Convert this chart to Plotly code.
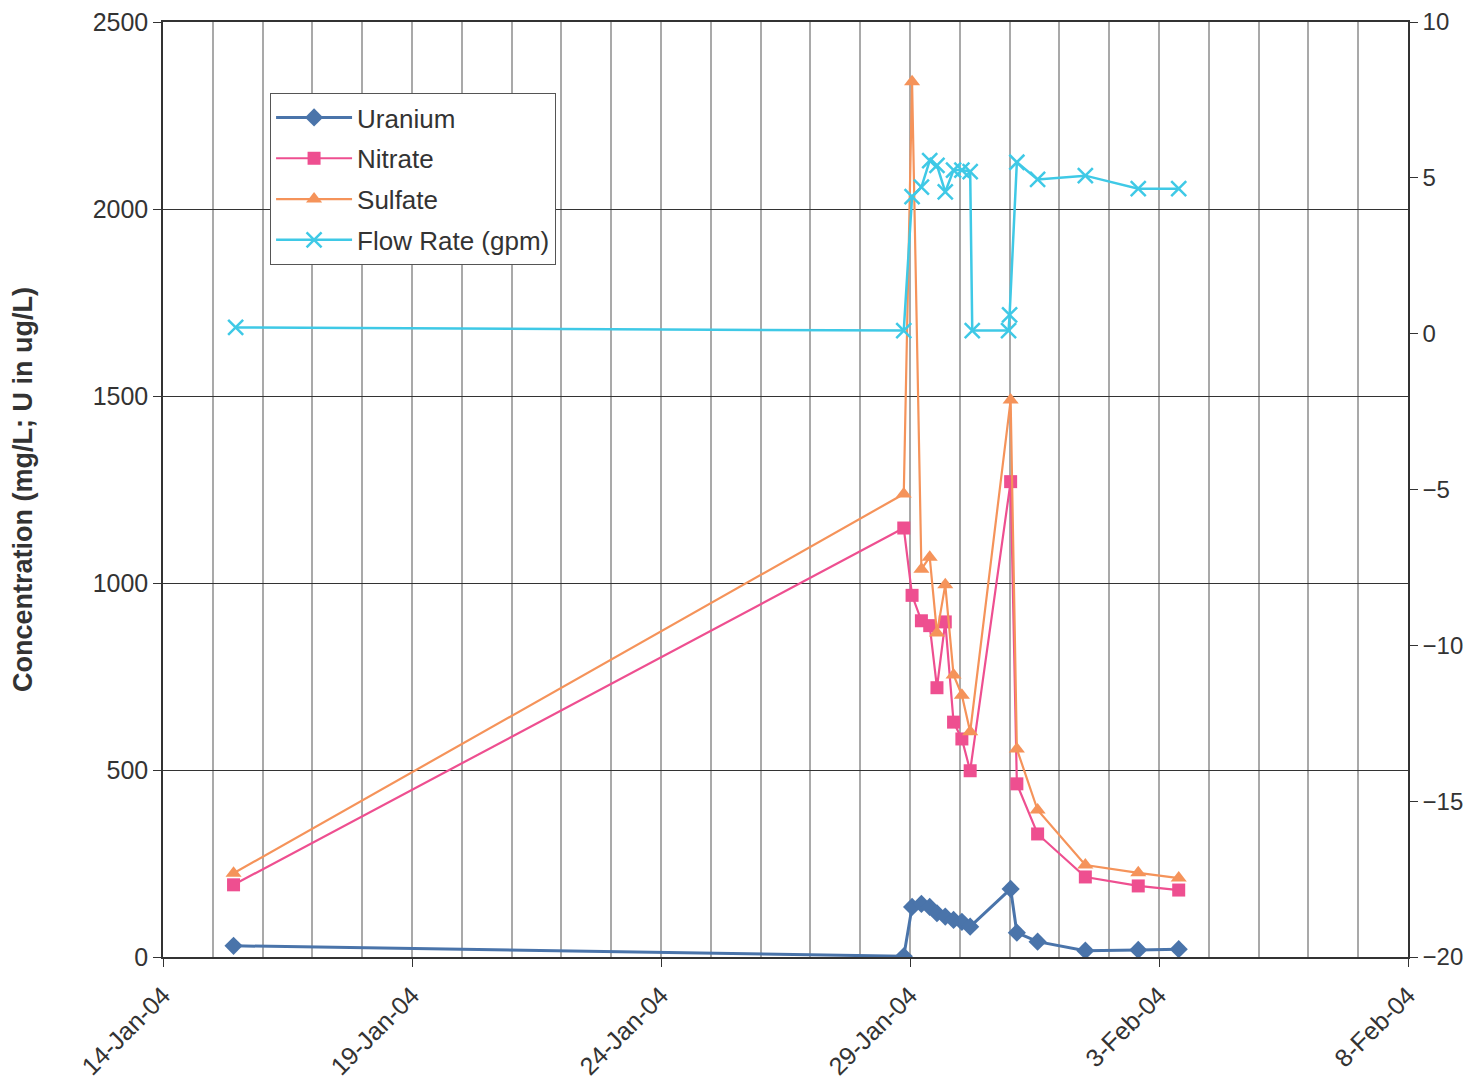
import plotly.graph_objects as go

# Sample times (concentration data)
conc_times = [
    "2004-01-15 10:00", "2004-01-28 21:00", "2004-01-29 01:00", "2004-01-29 05:30",
    "2004-01-29 09:30", "2004-01-29 13:00", "2004-01-29 17:00", "2004-01-29 21:00",
    "2004-01-30 01:00", "2004-01-30 05:00", "2004-01-31 00:30", "2004-01-31 03:30",
    "2004-01-31 13:30", "2004-02-01 12:30", "2004-02-02 14:00", "2004-02-03 09:30",
]
uranium = [30, 2, 134, 142, 134, 117, 108, 99, 94, 81, 182, 65, 41, 17, 19, 21]
nitrate = [193, 1147, 967, 899, 886, 720, 896, 628, 583, 498, 1271, 463, 329, 214, 190, 179]
sulfate = [224, 1238, 2340, 1037, 1069, 866, 995, 754, 700, 602, 1489, 556, 393, 246, 225, 211]

flow_times = [
    "2004-01-15 11:00", "2004-01-28 21:00", "2004-01-29 01:00", "2004-01-29 05:30",
    "2004-01-29 09:30", "2004-01-29 13:00", "2004-01-29 17:00", "2004-01-29 21:00",
    "2004-01-30 01:00", "2004-01-30 05:00", "2004-01-30 06:00", "2004-01-30 23:30",
    "2004-01-31 00:00", "2004-01-31 03:30", "2004-01-31 13:30", "2004-02-01 12:30",
    "2004-02-02 14:00", "2004-02-03 09:30",
]
flow = [0.2, 0.1, 4.4, 4.7, 5.55, 5.4, 4.55, 5.25, 5.25, 5.2, 0.1, 0.1, 0.6, 5.5, 4.95, 5.07, 4.65, 4.65]

x_range = ["2004-01-14", "2004-02-08"]
y_left_range = [0, 2500]
y_right_range = [-20, 10]

FONT = "Arial, Liberation Sans, sans-serif"
C_U = "#4a74aa"
C_N = "#ee4f90"
C_S = "#f5935a"
C_F = "#3fc9e6"
TXT = "#333333"

fig = go.Figure()
fig.add_trace(go.Scatter(x=conc_times, y=uranium, name="Uranium", mode="lines+markers",
                         legendgroup="u",
                         line=dict(color=C_U, width=3),
                         marker=dict(symbol="diamond", size=14, color=C_U)))
fig.add_trace(go.Scatter(x=conc_times, y=nitrate, name="Nitrate", mode="lines+markers",
                         legendgroup="n",
                         line=dict(color=C_N, width=2.2),
                         marker=dict(symbol="square", size=13, color=C_N)))
fig.add_trace(go.Scatter(x=conc_times, y=sulfate, name="Sulfate", mode="lines+markers",
                         legendgroup="s",
                         line=dict(color=C_S, width=2.2),
                         marker=dict(symbol="triangle-up", size=14, color=C_S)))
fig.add_trace(go.Scatter(x=flow_times, y=flow, name="Flow Rate (gpm)", mode="lines+markers",
                         yaxis="y2", legendgroup="f",
                         line=dict(color=C_F, width=2.5),
                         marker=dict(symbol="x-thin-open", size=15, color=C_F,
                                     line=dict(color=C_F, width=2.5))))

fig.update_layout(
    width=1455, height=1076,
    margin=dict(l=155, r=55, t=14, b=127),
    paper_bgcolor="white", plot_bgcolor="white",
    font=dict(family=FONT, size=24, color=TXT),
    showlegend=True,
    legend=dict(x=0.086, y=0.924, xanchor="left", yanchor="top",
                bgcolor="white", bordercolor="#555555", borderwidth=1,
                font=dict(size=26, color=TXT), itemwidth=76,
                tracegroupgap=4),
    xaxis=dict(
        type="date", range=x_range, automargin=False,
        tick0="2004-01-14", dtick=5 * 86400000, tickformat="%-d-%b-%y",
        tickangle=-45, ticks="outside", ticklen=8, tickcolor=TXT,
        ticklabelstandoff=4,
        showline=True, mirror=True, linecolor=TXT, linewidth=1.5,
        showgrid=True, gridcolor="#a9a9a9", gridwidth=1.5,
        minor=dict(dtick=86400000, tick0="2004-01-14", showgrid=True,
                   gridcolor="#a9a9a9", gridwidth=1.5),
        tickfont=dict(size=25, color=TXT),
        zeroline=False,
    ),
    yaxis=dict(
        range=y_left_range, dtick=500, ticks="outside", ticklen=8, tickcolor=TXT,
        automargin=False, ticklabeloverflow="allow",
        showline=True, linecolor=TXT, linewidth=1.5,
        showgrid=True, gridcolor=TXT, gridwidth=1,
        zeroline=False,
        title=dict(text="<b>Concentration (mg/L; U in ug/L)</b>",
                   font=dict(size=27, color=TXT), standoff=52),
        tickfont=dict(size=25, color=TXT),
    ),
    yaxis2=dict(
        range=y_right_range, dtick=5, overlaying="y", side="right",
        automargin=False, ticklabeloverflow="allow",
        ticks="outside", ticklen=8, tickcolor=TXT,
        showline=True, linecolor=TXT, linewidth=1.5,
        showgrid=False, zeroline=False,
        tickfont=dict(size=24, color=TXT),
    ),
)

fig.write_html("out.html")
